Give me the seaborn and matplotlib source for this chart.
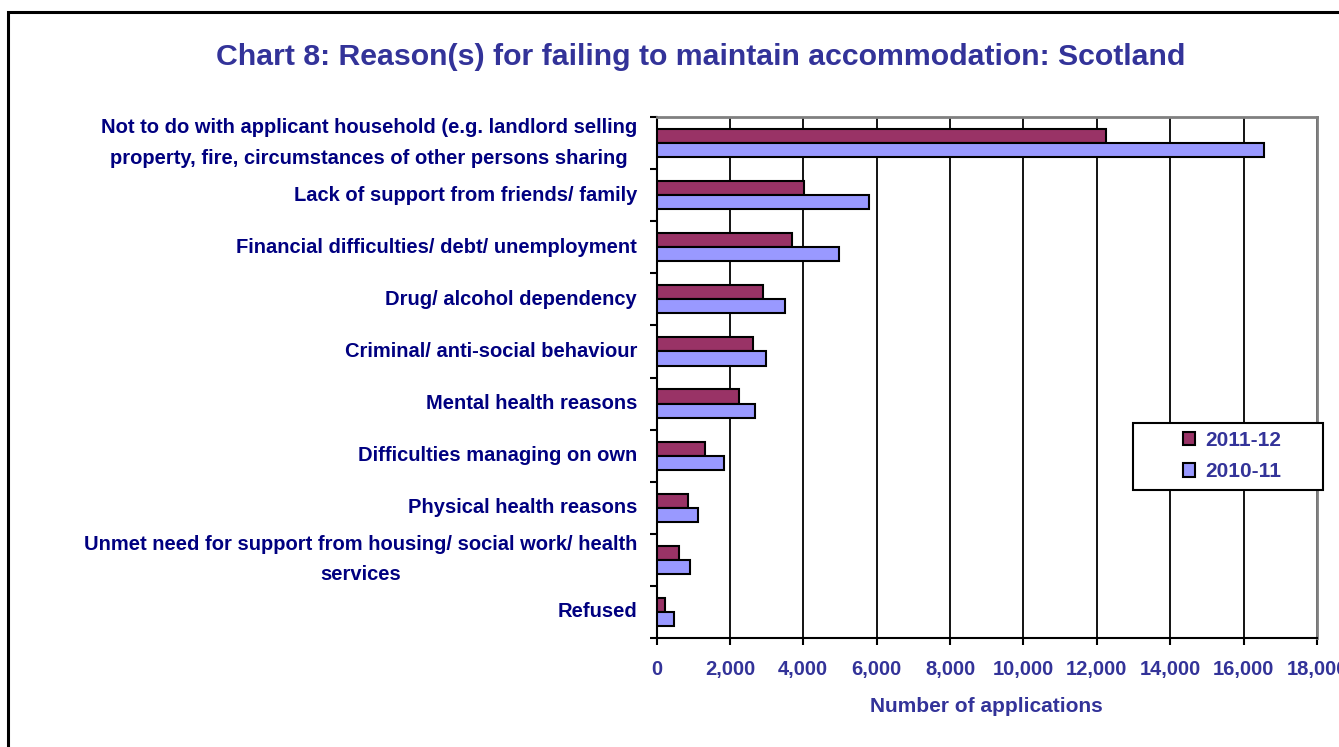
import matplotlib
matplotlib.use("Agg")
import matplotlib.pyplot as plt
import matplotlib.ticker as mticker
from matplotlib.patches import Rectangle, Patch
import numpy as np
import pandas as pd
import seaborn as sns

categories = [
    "Not to do with applicant household (e.g. landlord selling\nproperty, fire, circumstances of other persons sharing",
    "Lack of support from friends/ family",
    "Financial difficulties/ debt/ unemployment",
    "Drug/ alcohol dependency",
    "Criminal/ anti-social behaviour",
    "Mental health reasons",
    "Difficulties managing on own",
    "Physical health reasons",
    "Unmet need for support from housing/ social work/ health\nservices",
    "Refused",
]
series_names = ["2011-12", "2010-11"]
values_2011_12 = [12260, 4030, 3680, 2890, 2640, 2260, 1335, 870, 620, 245]
values_2010_11 = [16550, 5790, 4960, 3510, 2990, 2680, 1850, 1135, 920, 465]
x_ticks = list(range(0, 18001, 2000))

df = pd.DataFrame({
    "reason": categories * 2,
    "year": [series_names[0]] * len(categories) + [series_names[1]] * len(categories),
    "applications": values_2011_12 + values_2010_11,
})

sns.set_theme(style="white")
plt.rcParams["font.family"] = ["Liberation Sans", "DejaVu Sans"]
plt.rcParams["font.weight"] = "bold"

W, H = 1339, 747
fig = plt.figure(figsize=(W / 100, H / 100), dpi=100)
ax = fig.add_axes([656.5 / W, 1 - 638 / H, (1317 - 656.5) / W, (638 - 117) / H])

palette = {"2011-12": "#993366", "2010-11": "#9999FF"}
sns.barplot(
    data=df, y="reason", x="applications", hue="year", hue_order=series_names,
    order=categories, palette=palette, orient="h", width=0.54,
    edgecolor="black", linewidth=1.5, saturation=1, ax=ax, legend=False, zorder=3,
)

ax.set_xlim(0, 18000)
ax.set_ylim(len(categories) - 0.5, -0.5)

# vertical gridlines behind the bars
ax.set_xticks(x_ticks)
ax.xaxis.set_major_formatter(mticker.FuncFormatter(lambda v, p: f"{int(v):,}"))
ax.grid(axis="x", color="black", linewidth=1.3, zorder=0)
ax.set_axisbelow(True)

# category boundaries carry the tick marks, centres carry the labels
ax.yaxis.set_major_locator(mticker.FixedLocator(np.arange(-0.5, len(categories), 1.0)))
ax.yaxis.set_major_formatter(mticker.NullFormatter())
ax.yaxis.set_minor_locator(mticker.FixedLocator(np.arange(len(categories))))
ax.yaxis.set_minor_formatter(mticker.FixedFormatter(categories))
ax.tick_params(axis="y", which="major", length=5, width=1.5, color="black", left=True, direction="out")
ax.tick_params(axis="y", which="minor", length=0, pad=14, left=True)
for lbl in ax.yaxis.get_minorticklabels():
    lbl.set_fontsize(14.5)
    lbl.set_fontweight("bold")
    lbl.set_color("#000080")
    lbl.set_multialignment("center")
    lbl.set_verticalalignment("center")
    lbl.set_linespacing(1.75)

ax.tick_params(axis="x", which="major", length=5, width=1.5, color="black", bottom=True,
               direction="out", pad=10.5, labelsize=14.5, labelcolor="#333399")
for lbl in ax.get_xticklabels():
    lbl.set_fontweight("bold")

ax.set_ylabel("")
ax.set_xlabel("Number of applications", fontsize=15, fontweight="bold", color="#333399", labelpad=13.5)

for side in ("left", "bottom"):
    ax.spines[side].set_color("black")
    ax.spines[side].set_linewidth(1.5)
for side in ("top", "right"):
    ax.spines[side].set_color("#808080")
    ax.spines[side].set_linewidth(2)
    ax.spines[side].set_visible(True)

fig.text(701 / W, 1 - 57 / H, "Chart 8: Reason(s) for failing to maintain accommodation: Scotland",
         ha="center", va="center", fontsize=21.8, fontweight="bold", color="#333399")

# legend box
fig.patches.append(Rectangle((1133 / W, 1 - 490 / H), 190 / W, 67 / H, transform=fig.transFigure,
                             facecolor="white", edgecolor="black", linewidth=1.5, zorder=5))
handles = [Patch(facecolor=palette[n], edgecolor="black", linewidth=1.5, label=n) for n in series_names]
leg = fig.legend(handles=handles, loc="center", bbox_to_anchor=(1232 / W, 1 - 456 / H),
                 frameon=False, prop={"size": 15, "weight": "bold"}, labelcolor="#333399",
                 handlelength=0.6, handleheight=0.6, handletextpad=0.5, labelspacing=0.6)
leg.set_zorder(6)

# outer chart border
fig.patches.append(Rectangle((8 / W, -0.05), 1.1, 1 - 12 / H + 0.05, transform=fig.transFigure,
                             facecolor="none", edgecolor="black", linewidth=2.2, zorder=10))

fig.savefig("out.png", dpi=100)
